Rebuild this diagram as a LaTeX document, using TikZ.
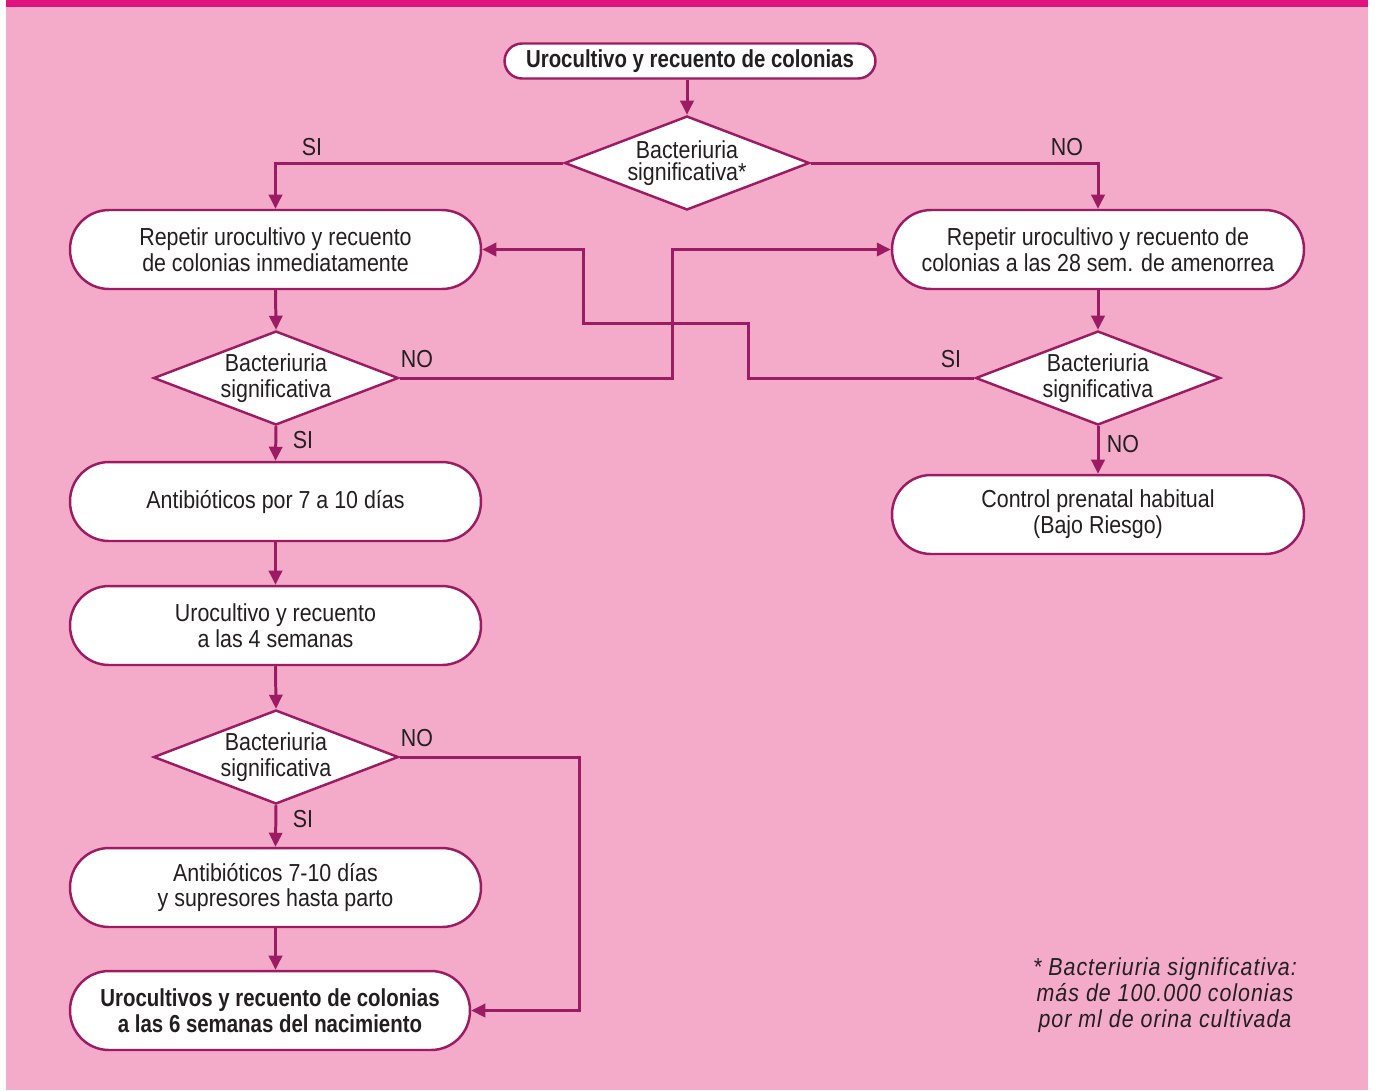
\documentclass[tikz,border=0pt]{standalone}
\usepackage{fontspec}
\setmainfont[FakeStretch=0.87,BoldFeatures={FakeStretch=0.83}]{Liberation Sans}
\usetikzlibrary{arrows.meta,shapes.geometric}
\definecolor{bgpink}{HTML}{F3ABC9}
\definecolor{barpink}{HTML}{E0127D}
\definecolor{linec}{HTML}{9C1B63}
\definecolor{textc}{HTML}{231F20}
\begin{document}
\begin{tikzpicture}[x=0.02cm,y=-0.02cm,
  basefont/.style={font=\fontsize{14}{14.7}\selectfont, text=textc},
  pill/.style={basefont, draw=linec, line width=1.4pt, fill=white,
    rounded corners=0.78cm, minimum height=1.58cm, minimum width=8.22cm,
    align=center, inner sep=0pt},
  titlepill/.style={pill, rounded corners=0.35cm, minimum height=0.7cm,
    minimum width=7.42cm, font=\fontsize{14}{14.7}\selectfont\bfseries},
  decision/.style={diamond, draw=linec, line width=1.4pt, fill=white,
    minimum width=4.9cm, minimum height=1.88cm, inner sep=0pt},
  dtext/.style={basefont, align=center, inner sep=0pt},
  tag/.style={basefont, inner sep=0pt},
  flow/.style={draw=linec, line width=1.7pt,
    -{Triangle[length=8pt,width=7.5pt]}},
]
\useasboundingbox (0,0) rectangle (1375,1090);
% page background and top band
\fill[bgpink] (6,0) rectangle (1368,1090);
\fill[barpink] (6,0) rectangle (1368,7);

% nodes
\node[titlepill] (top) at (690,61) {Urocultivo y recuento de colonias};
\node[decision] (d1) at (687,163) {};
\node[dtext, font=\fontsize{14}{12.5}\selectfont] (d1t) at (687,163) {Bacteriuria\\significativa*};

\node[pill] (l1) at (275.5,249.5) {Repetir urocultivo y recuento\\de colonias inmediatamente};
\node[pill, minimum width=8.24cm] (r1) at (1098,249.5) {Repetir urocultivo y recuento de\\colonias a las 28 sem. de amenorrea};

\node[decision] (d2) at (276,378) {};
\node[dtext] (d2t) at (276,378) {Bacteriuria\\significativa};
\node[decision] (d3) at (1098,378) {};
\node[dtext] (d3t) at (1098,378) {Bacteriuria\\significativa};

\node[pill, minimum width=8.24cm] (r3) at (1098,514.5) {Control prenatal habitual\\(Bajo Riesgo)};
\node[pill] (l3) at (275.5,501.5) {Antibióticos por 7 a 10 días};
\node[pill] (l4) at (275.5,625.5) {Urocultivo y recuento\\a las 4 semanas};

\node[decision] (d5) at (276,757) {};
\node[dtext] (d5t) at (276,757) {Bacteriuria\\significativa};

\node[pill] (l6) at (275.5,887.5) {Antibióticos 7-10 días\\y supresores hasta parto};
\node[pill, minimum width=8.0cm, font=\fontsize{14}{14.7}\selectfont\bfseries] (l7) at (270,1010.5) {Urocultivos y recuento de colonias\\a las 6 semanas del nacimiento};

% waypoints
\coordinate (w1) at (672,378);
\coordinate (w2) at (748,323);
\coordinate (w3) at (583,0);
\coordinate (w4) at (579,757);

% connectors
\draw[flow] (d1.north |- top.south) -- (d1.north);
\draw[flow] (d1.west) -| (l1.north);
\draw[flow] (d1.east) -| (r1.north);
\draw[flow] (l1.south) -- (d2.north);
\draw[flow] (r1.south) -- (d3.north);
\draw[flow] (d2.east) -- (w1) |- (r1.west);
\draw[flow] (d3.west) -| (w2) -| (w3 |- l1.east) -- (l1.east);
\draw[flow] (d3.south) -- (r3.north);
\draw[flow] (d2.south) -- (l3.north);
\draw[flow] (l3.south) -- (l4.north);
\draw[flow] (l4.south) -- (d5.north);
\draw[flow] (d5.south) -- (l6.north);
\draw[flow] (d5.east) -- (w4) |- (l7.east);
\draw[flow] (l6.south) -- (l6.south |- l7.north);

% branch labels
\node[tag] (s1) at (312,147) {SI};
\node[tag] (n1) at (1067,147) {NO};
\node[tag] (n2) at (417,359) {NO};
\node[tag] (s3) at (951,359) {SI};
\node[tag] (n3) at (1123,444) {NO};
\node[tag] (s2) at (303,440) {SI};
\node[tag] (n5) at (417,738) {NO};
\node[tag] (s5) at (303,819) {SI};

% footnote
\node[basefont, align=center, inner sep=0pt, font=\fontsize{14}{14.7}\selectfont\itshape\addfontfeature{LetterSpace=4}] (fn) at (1165,995)
  {* Bacteriuria significativa:\\más de 100.000 colonias\\por ml de orina cultivada};
\end{tikzpicture}
\end{document}
